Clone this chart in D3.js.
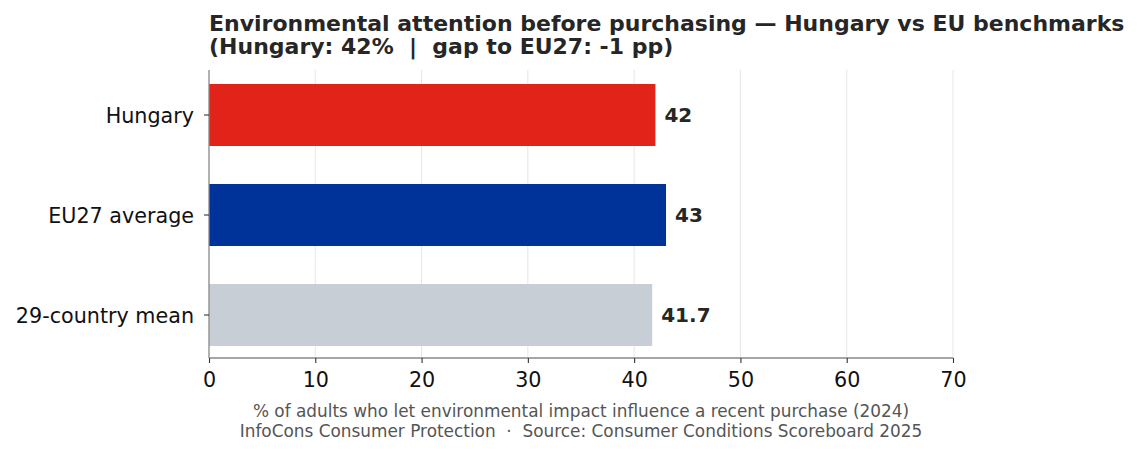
<!DOCTYPE html>
<html>
<head>
<meta charset="utf-8">
<script src="https://cdn.jsdelivr.net/npm/d3@7"></script>
<style>
  body { margin: 0; background: #fff; }
  text { font-family: "DejaVu Sans", sans-serif; white-space: pre; }
</style>
</head>
<body>
<svg id="chart"></svg>
<script>
var width = 1137;
var height = 456;

// data
var categories = ["Hungary", "EU27 average", "29-country mean"];
var values = [42, 43, 41.7];
var barColors = ["#e2231a", "#003399", "#c8ced6"];
var xTicks = [0, 10, 20, 30, 40, 50, 60, 70];

var titleLines = [
  "Environmental attention before purchasing \u2014 Hungary vs EU benchmarks",
  "(Hungary: 42%  |  gap to EU27: -1 pp)"
];
var footLines = [
  "% of adults who let environmental impact influence a recent purchase (2024)",
  "InfoCons Consumer Protection  \u00b7  Source: Consumer Conditions Scoreboard 2025"
];

var margin = { top: 70, right: 184, bottom: 98, left: 209 };
var innerW = width - margin.left - margin.right;
var innerH = height - margin.top - margin.bottom;

var svg = d3.select("#chart")
  .attr("width", width)
  .attr("height", height);

var g = svg.append("g")
  .attr("transform", "translate(" + margin.left + "," + margin.top + ")");

var x = d3.scaleLinear().domain([0, 70]).range([0, innerW]);
// bands sit a touch low, like matplotlib's barh layout
var y = d3.scaleBand().domain(categories).range([1, innerH + 1])
  .paddingInner(0.38).paddingOuter(0.13);

// grid
g.selectAll(".grid")
  .data(xTicks.slice(1))
  .enter().append("line")
  .attr("x1", function(d) { return x(d); })
  .attr("x2", function(d) { return x(d); })
  .attr("y1", 0)
  .attr("y2", innerH)
  .attr("stroke", "#e6e6e6")
  .attr("stroke-width", 1);

// bars
g.selectAll(".bar")
  .data(categories)
  .enter().append("rect")
  .attr("x", x(0))
  .attr("y", function(d) { return y(d); })
  .attr("width", function(d, i) { return x(values[i]) - x(0); })
  .attr("height", y.bandwidth())
  .attr("fill", function(d, i) { return barColors[i]; });

// value labels
g.selectAll(".val")
  .data(categories)
  .enter().append("text")
  .attr("x", function(d, i) { return x(values[i]) + 9; })
  .attr("y", function(d) { return y(d) + y.bandwidth() / 2; })
  .attr("dy", "0.33em")
  .attr("font-size", "20px")
  .attr("font-weight", "bold")
  .attr("fill", "#262626")
  .text(function(d, i) { return d3.format("~g")(values[i]); });

// axes
var xAxis = g.append("g")
  .attr("transform", "translate(0," + innerH + ")")
  .call(d3.axisBottom(x).tickValues(xTicks).tickSize(5).tickPadding(9));
var yAxis = g.append("g")
  .call(d3.axisLeft(y).tickSize(5).tickPadding(10));

[xAxis, yAxis].forEach(function(ax) {
  ax.select(".domain").attr("stroke", "#888").attr("stroke-width", 1.3);
  ax.selectAll(".tick line").attr("stroke", "#333").attr("stroke-width", 1.1);
  ax.selectAll(".tick text")
    .attr("font-family", "DejaVu Sans, sans-serif")
    .attr("font-size", "20.7px")
    .attr("fill", "#111");
});
yAxis.selectAll(".tick text").attr("dy", "0.4em");
yAxis.select(".domain").attr("d", "M0,0V" + innerH);
xAxis.select(".domain").attr("d", "M0,0H" + innerW);

// title
svg.selectAll(".title")
  .data(titleLines)
  .enter().append("text")
  .attr("x", margin.left)
  .attr("y", function(d, i) { return 31 + i * 23; })
  .attr("font-size", "22px")
  .attr("font-weight", "bold")
  .attr("fill", "#262626")
  .text(function(d) { return d; });

// footer
svg.selectAll(".foot")
  .data(footLines)
  .enter().append("text")
  .attr("x", margin.left + innerW / 2)
  .attr("y", function(d, i) { return 417 + i * 20; })
  .attr("text-anchor", "middle")
  .attr("font-size", "16.9px")
  .attr("fill", "#555")
  .text(function(d) { return d; });
</script>
</body>
</html>
